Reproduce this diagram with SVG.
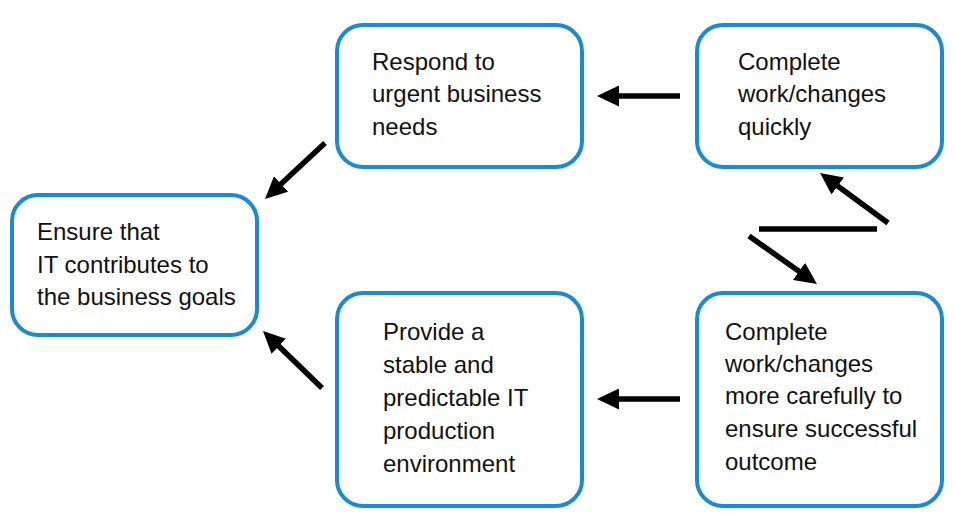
<svg xmlns="http://www.w3.org/2000/svg" width="955" height="518" viewBox="0 0 955 518">
<style>
.box{fill:#ffffff;stroke:#1a8ad2;stroke-width:4}
.lbl{font-family:"Liberation Sans",Arial,sans-serif;font-size:24px;fill:#111111}
.con{stroke:#000000;stroke-width:5.5;fill:none}
</style>
<defs>
<marker id="ah" markerUnits="userSpaceOnUse" markerWidth="22" markerHeight="21" refX="6" refY="10.5" orient="auto">
<path d="M0,0 L22,10.5 L0,21 Z" fill="#000000"/>
</marker>
</defs>
<rect width="955" height="518" fill="#ffffff"/>
<g id="connectors">
<line class="con" x1="680" y1="96" x2="613" y2="96" marker-end="url(#ah)"/>
<line class="con" x1="680" y1="399" x2="613" y2="399" marker-end="url(#ah)"/>
<line class="con" x1="325" y1="143" x2="276.7" y2="188.1" marker-end="url(#ah)"/>
<line class="con" x1="322" y1="388" x2="274.5" y2="342.1" marker-end="url(#ah)"/>
<line class="con" x1="888" y1="223" x2="832.9" y2="182.5" marker-end="url(#ah)"/>
<line class="con" x1="759" y1="229" x2="877" y2="229"/>
<line class="con" x1="749" y1="236" x2="803.9" y2="274.8" marker-end="url(#ah)"/>
</g>
<g id="ensure">
<rect class="box" x="12" y="195" width="245" height="140" rx="26"/>
<text class="lbl" x="37"><tspan x="37" y="240">Ensure that</tspan><tspan x="37" y="273">IT contributes to</tspan><tspan x="37" y="305">the business goals</tspan></text>
</g>
<g id="respond">
<rect class="box" x="337" y="25" width="245" height="142" rx="26"/>
<text class="lbl"><tspan x="372" y="70">Respond to</tspan><tspan x="372" y="102">urgent business</tspan><tspan x="372" y="135">needs</tspan></text>
</g>
<g id="quickly">
<rect class="box" x="697" y="25" width="245" height="142" rx="26"/>
<text class="lbl"><tspan x="738" y="70">Complete</tspan><tspan x="738" y="102">work/changes</tspan><tspan x="738" y="135">quickly</tspan></text>
</g>
<g id="provide">
<rect class="box" x="337" y="293" width="245" height="213" rx="26"/>
<text class="lbl"><tspan x="383" y="340">Provide a</tspan><tspan x="383" y="373">stable and</tspan><tspan x="383" y="406">predictable IT</tspan><tspan x="383" y="439">production</tspan><tspan x="383" y="472">environment</tspan></text>
</g>
<g id="carefully">
<rect class="box" x="697" y="293" width="245" height="213" rx="26"/>
<text class="lbl"><tspan x="725" y="340">Complete</tspan><tspan x="725" y="372">work/changes</tspan><tspan x="725" y="404">more carefully to</tspan><tspan x="725" y="437">ensure successful</tspan><tspan x="725" y="470">outcome</tspan></text>
</g>
</svg>
